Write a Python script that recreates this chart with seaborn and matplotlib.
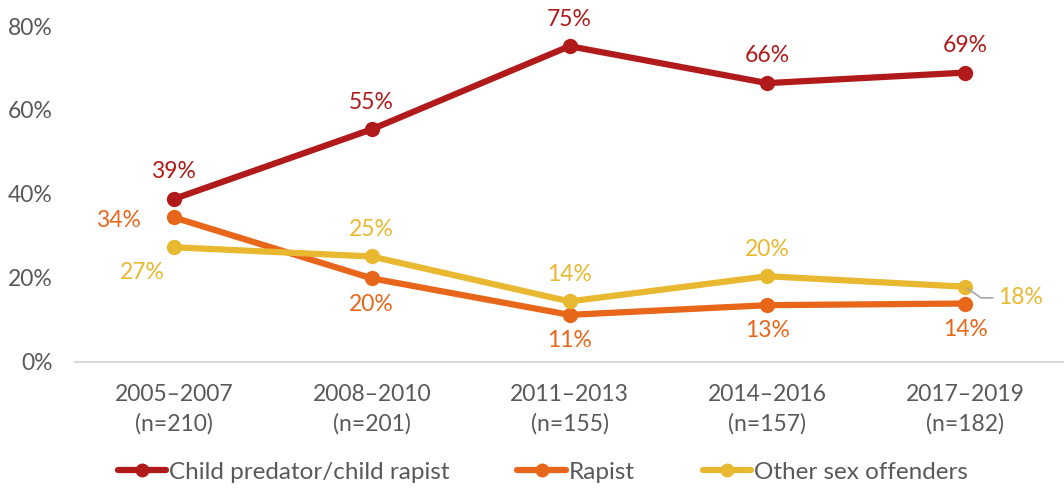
import matplotlib
matplotlib.use("Agg")
import matplotlib.pyplot as plt
import seaborn as sns
import pandas as pd
from matplotlib.lines import Line2D

periods = ["2005–2007\n(n=210)", "2008–2010\n(n=201)", "2011–2013\n(n=155)",
           "2014–2016\n(n=157)", "2017–2019\n(n=182)"]
series_names = ["Child predator/child rapist", "Rapist", "Other sex offenders"]
child = [38.8, 55.4, 75.2, 66.4, 68.9]
rapist = [34.4, 19.9, 11.2, 13.5, 13.9]
other = [27.3, 25.1, 14.4, 20.4, 17.9]
child_labels = ["39%", "55%", "75%", "66%", "69%"]
rapist_labels = ["34%", "20%", "11%", "13%", "14%"]
other_labels = ["27%", "25%", "14%", "20%", "18%"]
yticks = [0, 20, 40, 60, 80]

colors = ["#B01A1A", "#E8661A", "#E8B830"]

sns.set_theme(style="white")
plt.rcParams["font.family"] = ["Lato", "DejaVu Sans"]

rows = []
for name, vals in zip(series_names, [child, rapist, other]):
    for i, v in enumerate(vals):
        rows.append({"x": i, "value": v, "series": name})
df = pd.DataFrame(rows)

fig = plt.figure(figsize=(10.64, 4.91), dpi=100)
ax = fig.add_axes([0.0705, 0.263, 0.9295, 0.684])

sns.lineplot(data=df, x="x", y="value", hue="series", hue_order=series_names,
             palette=colors, marker="o", markersize=11, linewidth=4.5,
             markeredgewidth=0, ax=ax, legend=False, sort=False)

ax.set_xlim(-0.5, 4.5)
ax.set_ylim(0, 80)
ax.set_yticks(yticks)
ax.set_yticklabels([f"{t}%" for t in yticks])
ax.set_xticks(range(len(periods)))
ax.set_xticklabels(periods, linespacing=1.45)
ax.tick_params(axis="both", colors="#595959", labelsize=16.5, length=0)
ax.tick_params(axis="x", pad=16)
ax.tick_params(axis="y", pad=16)
for lbl in ax.get_yticklabels():
    lbl.set_horizontalalignment("right")
for s in ["top", "right", "left"]:
    ax.spines[s].set_visible(False)
ax.spines["bottom"].set_color("#D9D9D9")
ax.spines["bottom"].set_linewidth(1.5)
ax.set_xlabel("")
ax.set_ylabel("")

fs = 16.5
# child labels: above
for i, (v, t) in enumerate(zip(child, child_labels)):
    ax.annotate(t, (i, v), xytext=(0, 12), textcoords="offset points",
                ha="center", va="bottom", color=colors[0], fontsize=fs)
# rapist labels
for i, (v, t) in enumerate(zip(rapist, rapist_labels)):
    if i == 0:
        ax.annotate(t, (i, v), xytext=(-40, -2), textcoords="offset points",
                    ha="center", va="center", color=colors[1], fontsize=fs)
    else:
        ax.annotate(t, (i, v), xytext=(0, -11), textcoords="offset points",
                    ha="center", va="top", color=colors[1], fontsize=fs)
# other labels
for i, (v, t) in enumerate(zip(other, other_labels)):
    if i == 0:
        ax.annotate(t, (i, v), xytext=(-23, -18), textcoords="offset points",
                    ha="center", va="center", color=colors[2], fontsize=fs)
    elif i == 4:
        ax.annotate(t, (i, v), xytext=(40, -8), textcoords="offset points",
                    ha="center", va="center", color=colors[2], fontsize=fs)
        ax.annotate("", (i, v), xytext=(20, -8), textcoords="offset points",
                    arrowprops=dict(arrowstyle="-", color="#A6A6A6", lw=1.2,
                                    connectionstyle="angle,angleA=0,angleB=-35,rad=0",
                                    shrinkA=0, shrinkB=2))
    else:
        ax.annotate(t, (i, v), xytext=(0, 12), textcoords="offset points",
                    ha="center", va="bottom", color=colors[2], fontsize=fs)

handles = [Line2D([0], [0], color=c, lw=4.5, marker="o", markersize=9) for c in colors]
leg = fig.legend(handles, series_names, loc="center", bbox_to_anchor=(0.51, 0.038),
                 ncol=3, frameon=False, fontsize=17.5, handlelength=2.0,
                 handletextpad=0.1, columnspacing=2.8)
for t in leg.get_texts():
    t.set_color("#595959")

fig.savefig("out.png", dpi=100)
